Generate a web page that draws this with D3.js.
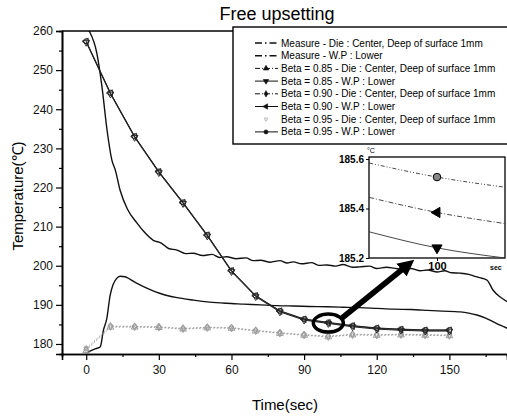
<!DOCTYPE html>
<html>
<head>
<meta charset="utf-8">
<script src="https://cdn.jsdelivr.net/npm/d3@7"></script>
<style>
  body { margin: 0; background: #fff; }
  svg { font-family: Arial, "Liberation Sans", sans-serif; }
</style>
</head>
<body>
<div id="chart"></div>
<script>
// measured curves (time, temperature)
const measDieT = [0, 1.4, 4.4, 6.5, 8.6, 10.6, 12, 14, 17, 21, 24, 27.7, 31, 34, 37.5, 41, 44.2, 48, 52, 55, 58, 62, 66, 69, 72, 76, 80, 83, 85.5, 89, 93, 96, 99.5, 103, 106, 110, 113, 117, 120, 124, 127, 131, 134, 138, 141, 145, 148, 151, 154.5, 158, 161, 163.5, 165.6, 168, 171, 174];
const measDieV = [261, 259.8, 254.3, 245.8, 234.7, 227.0, 224.5, 219.3, 214.5, 210.9, 208.6, 206.5, 205.8, 204.4, 204.0, 203.1, 203.2, 202.6, 202.9, 202.1, 202.3, 201.8, 202.0, 201.3, 201.4, 200.9, 201.3, 200.7, 201.0, 200.5, 200.8, 200.1, 200.2, 199.9, 200.3, 199.6, 199.7, 199.9, 199.3, 199.6, 199.4, 199.0, 199.3, 198.7, 198.9, 198.4, 198.7, 198.2, 198.1, 197.8, 197.2, 196.8, 196.3, 193.8, 192.0, 190.8];
const measWpT = [0.5, 2, 4, 5.8, 7.1, 8.5, 9.9, 11, 12.5, 14, 16, 18, 21, 25, 30.6, 37, 44.3, 51, 58, 65, 72, 79, 85.5, 92, 99.5, 106, 113, 120, 127, 134, 140.8, 147, 154.5, 158, 161.4, 165, 168, 171, 174];
const measWpV = [177.8, 178.3, 178.8, 179.3, 183.5, 186.5, 192.5, 195.0, 196.7, 197.3, 197.2, 196.6, 195.5, 194.3, 192.9, 191.9, 191.2, 190.7, 190.4, 190.2, 190.0, 189.8, 189.7, 189.6, 189.5, 189.4, 189.3, 189.1, 188.9, 188.8, 188.6, 188.4, 188.2, 187.9, 187.4, 186.6, 185.7, 184.8, 184.0];

// simulated series, every 10 sec
const simT = [0, 10, 20, 30, 40, 50, 60, 70, 80, 90, 100, 110, 120, 130, 140, 150];
const wp85 = [257.1, 243.9, 232.8, 223.8, 215.9, 207.6, 198.5, 192.1, 188.2, 186.1, 185.24, 184.4, 183.8, 183.5, 183.3, 183.3];
const wp90 = [257.3, 244.1, 233.0, 224.0, 216.1, 207.8, 198.7, 192.3, 188.4, 186.3, 185.38, 184.6, 184.0, 183.7, 183.5, 183.5];
const wp95 = [257.4, 244.2, 233.1, 224.1, 216.2, 207.9, 198.8, 192.4, 188.5, 186.4, 185.53, 184.7, 184.1, 183.8, 183.6, 183.6];
const die85 = [178.3, 184.3, 184.3, 184.2, 183.8, 184.1, 184.0, 183.3, 182.7, 182.2, 181.8, 182.3, 182.2, 182.3, 182.2, 182.1];
const die90 = [178.6, 184.5, 184.4, 184.3, 183.9, 184.2, 184.1, 183.4, 182.8, 182.3, 181.9, 182.4, 182.3, 182.4, 182.3, 182.2];
const die95 = [178.9, 184.6, 184.5, 184.4, 184.0, 184.3, 184.2, 183.5, 182.9, 182.4, 182.0, 182.5, 182.4, 182.5, 182.4, 182.3];

const xTicks = [0, 30, 60, 90, 120, 150];
const xMinor = [15, 45, 75, 105, 135, 165];
const yTicks = [180, 190, 200, 210, 220, 230, 240, 250, 260];
const yMinor = [185, 195, 205, 215, 225, 235, 245, 255];

// zoomed inset around t = 100
const insetT = [98, 100, 102];
const inset95 = [185.584, 185.527, 185.486];
const inset90 = [185.445, 185.384, 185.339];
const inset85 = [185.306, 185.241, 185.200];
const insetYTicks = [185.2, 185.4, 185.6];

const legendLabels = [
  "Measure - Die : Center, Deep of surface 1mm",
  "Measure - W.P : Lower",
  "Beta = 0.85 - Die : Center, Deep of surface 1mm",
  "Beta = 0.85 - W.P : Lower",
  "Beta = 0.90 - Die : Center, Deep of surface 1mm",
  "Beta = 0.90 - W.P : Lower",
  "Beta = 0.95 - Die : Center, Deep of surface 1mm",
  "Beta = 0.95 - W.P : Lower"
];

const W = 507, H = 417;
const svg = d3.select("#chart").append("svg")
  .attr("width", W).attr("height", H);

const x = d3.scaleLinear().domain([-10, 173.8]).range([62, 507]);
const y = d3.scaleLinear().domain([177.44, 260]).range([354, 31]);

const defs = svg.append("defs");
defs.append("clipPath").attr("id", "plotclip")
  .append("rect").attr("x", 62).attr("y", 31).attr("width", 445).attr("height", 323);

// symbols
const sym = {
  up: d3.symbol().type(d3.symbolTriangle).size(20),
  down: d3.symbol().type(d3.symbolTriangle).size(20),
  left: d3.symbol().type(d3.symbolTriangle).size(20),
  diamond: d3.symbol().type(d3.symbolDiamond).size(18),
  circle: d3.symbol().type(d3.symbolCircle).size(20),
  small: d3.symbol().type(d3.symbolWye).size(10)
};
const rot = { up: 0, down: 180, left: -90, diamond: 0, circle: 0, small: 0 };

const series = [
  { v: die85, type: "die", sym: "up" },
  { v: die90, type: "die", sym: "diamond" },
  { v: die95, type: "die", sym: "small" },
  { v: wp85, type: "wp", sym: "down" },
  { v: wp90, type: "wp", sym: "left" },
  { v: wp95, type: "wp", sym: "circle" }
];

const plot = svg.append("g").attr("clip-path", "url(#plotclip)");

const lineXY = d3.line().x(d => x(d[0])).y(d => y(d[1])).curve(d3.curveMonotoneX);

plot.append("path")
  .datum(measDieT.map((t, i) => [t, measDieV[i]]))
  .attr("d", lineXY).attr("fill", "none").attr("stroke", "#111").attr("stroke-width", 1.4);
plot.append("path")
  .datum(measWpT.map((t, i) => [t, measWpV[i]]))
  .attr("d", lineXY).attr("fill", "none").attr("stroke", "#111").attr("stroke-width", 1.4);

const lineSim = d3.line().x(d => x(d[0])).y(d => y(d[1]));
series.forEach(s => {
  const pts = simT.map((t, i) => [t, s.v[i]]);
  plot.append("path").datum(pts)
    .attr("d", lineSim).attr("fill", "none")
    .attr("stroke", s.type === "die" ? "#999" : "#222")
    .attr("stroke-width", s.type === "die" ? 0.8 : 1)
    .attr("stroke-dasharray", s.type === "die" ? "1.5,2" : null);
  plot.selectAll(null).data(pts).enter().append("path")
    .attr("d", sym[s.sym])
    .attr("transform", d => `translate(${x(d[0])},${y(d[1])}) rotate(${rot[s.sym]})`)
    .attr("fill", "none")
    .attr("stroke", s.type === "die" ? "#999" : "#222")
    .attr("stroke-width", 0.9);
});

// axes
svg.append("g").attr("transform", "translate(0,354)")
  .call(d3.axisBottom(x).tickValues(xTicks).tickSize(6).tickPadding(5));
svg.append("g").attr("transform", "translate(0,354)")
  .call(d3.axisBottom(x).tickValues(xMinor).tickSize(3).tickFormat(""));
svg.append("g").attr("transform", "translate(62,0)")
  .call(d3.axisLeft(y).tickValues(yTicks).tickSize(6).tickPadding(3));
svg.append("g").attr("transform", "translate(62,0)")
  .call(d3.axisLeft(y).tickValues(yMinor).tickSize(3).tickFormat(""));
svg.selectAll(".domain").attr("stroke", "#000").attr("stroke-width", 1.6);
svg.selectAll(".tick line").attr("stroke", "#000").attr("stroke-width", 1.2);
svg.selectAll(".tick text").attr("font-size", 12).attr("fill", "#111")
  .attr("font-family", "Arial, 'Liberation Sans', sans-serif");

// top frame
svg.append("line").attr("x1", 62).attr("x2", 507).attr("y1", 31).attr("y2", 31)
  .attr("stroke", "#000").attr("stroke-width", 1.4);

// labels
svg.append("text").attr("x", 277).attr("y", 20).attr("text-anchor", "middle")
  .attr("font-size", 18).text("Free upsetting");
svg.append("text").attr("x", 285).attr("y", 410).attr("text-anchor", "middle")
  .attr("font-size", 15).text("Time(sec)");
svg.append("text").attr("transform", "translate(23,196) rotate(-90)")
  .attr("text-anchor", "middle").attr("font-size", 15).text("Temperature(℃)");

// legend
const lg = svg.append("g");
lg.append("rect").attr("x", 233).attr("y", 27).attr("width", 280).attr("height", 117)
  .attr("fill", "#fff").attr("stroke", "#000").attr("stroke-width", 1.4);
const legSyms = [null, null, "up", "down", "diamond", "left", "small", "circle"];
legendLabels.forEach((lab, i) => {
  const yy = 43 + i * 12.7;
  const row = lg.append("g");
  if (i < 2) {
    row.append("line").attr("x1", 255).attr("x2", 278).attr("y1", yy).attr("y2", yy)
      .attr("stroke", "#111").attr("stroke-width", 1.4).attr("stroke-dasharray", "7,3,1.5,3");
  } else if (legSyms[i] !== "small") {
    row.append("line").attr("x1", 255).attr("x2", 278).attr("y1", yy).attr("y2", yy)
      .attr("stroke", "#111").attr("stroke-width", 1).attr("stroke-dasharray", i % 2 === 0 ? "5,2,1,2" : null);
  }
  row.append("path").attr("d", sym[legSyms[i] || "circle"])
    .attr("transform", `translate(266,${yy}) rotate(${rot[legSyms[i]] || 0}) scale(0.8)`)
    .attr("fill", legSyms[i] === "small" ? "none" : "#111")
    .attr("stroke", legSyms[i] === "small" ? "#999" : "#111")
    .attr("stroke-width", 0.8)
    .attr("opacity", legSyms[i] ? 1 : 0);
  row.append("text").attr("x", 281).attr("y", yy + 3.5).attr("font-size", 10).text(lab);
});

// inset
const ix = d3.scaleLinear().domain([98, 102]).range([369, 505]);
const iy = d3.scaleLinear().domain([185.2, 185.6]).range([258, 159]);
const ins = svg.append("g");
ins.append("rect").attr("x", 369).attr("y", 157).attr("width", 136).attr("height", 101)
  .attr("fill", "#fff").attr("stroke", "#000").attr("stroke-width", 1.3);
const insetSeries = [
  { v: inset95, sym: "circle", dash: "4,2,1,2,1,2" },
  { v: inset90, sym: "left", dash: "5,2,1,2" },
  { v: inset85, sym: "down", dash: null }
];
const iline = d3.line().x(d => ix(d[0])).y(d => iy(d[1])).curve(d3.curveMonotoneX);
insetSeries.forEach(s => {
  const pts = insetT.map((t, i) => [t, s.v[i]]);
  ins.append("path").datum(pts).attr("d", iline).attr("fill", "none")
    .attr("stroke", "#333").attr("stroke-width", 0.9).attr("stroke-dasharray", s.dash);
  ins.append("path").attr("d", d3.symbol().type(s.sym === "circle" ? d3.symbolCircle : d3.symbolTriangle).size(45))
    .attr("transform", `translate(${ix(100)},${iy(pts[1][1])}) rotate(${rot[s.sym]})`)
    .attr("fill", s.sym === "circle" ? "#888" : "#000").attr("stroke", "#000").attr("stroke-width", 1);
});
ins.append("g").attr("transform", "translate(369,0)")
  .call(d3.axisLeft(iy).tickValues(insetYTicks).tickSize(3).tickPadding(2).tickFormat(d3.format(".1f")))
  .call(g => g.select(".domain").remove())
  .selectAll("text").attr("font-size", 10).attr("font-weight", "bold").attr("fill", "#000")
  .attr("font-family", "Arial, 'Liberation Sans', sans-serif");
ins.append("g").attr("transform", "translate(0,258)")
  .call(d3.axisBottom(ix).tickValues([100]).tickSize(3).tickPadding(1).tickFormat(d3.format("d")))
  .call(g => g.select(".domain").remove())
  .selectAll("text").attr("font-size", 11).attr("font-weight", "bold").attr("fill", "#000")
  .attr("font-family", "Arial, 'Liberation Sans', sans-serif");
ins.append("text").attr("x", 490).attr("y", 270).attr("font-size", 7).attr("font-weight", "bold").text("sec");
ins.append("text").attr("x", 367).attr("y", 153).attr("font-size", 7).text("°C");

// highlight ellipse and arrow
svg.append("ellipse").attr("cx", x(100)).attr("cy", y(185.35)).attr("rx", 15).attr("ry", 9)
  .attr("fill", "none").attr("stroke", "#000").attr("stroke-width", 3.5);
defs.append("marker").attr("id", "ah").attr("viewBox", "0 0 10 10")
  .attr("refX", 2).attr("refY", 5).attr("markerWidth", 3).attr("markerHeight", 3)
  .attr("orient", "auto")
  .append("path").attr("d", "M0,0 L10,5 L0,10 Z").attr("fill", "#000");
svg.append("line").attr("x1", 342).attr("y1", 318).attr("x2", 404).attr("y2", 268)
  .attr("stroke", "#000").attr("stroke-width", 5.5).attr("marker-end", "url(#ah)");
</script>
</body>
</html>
